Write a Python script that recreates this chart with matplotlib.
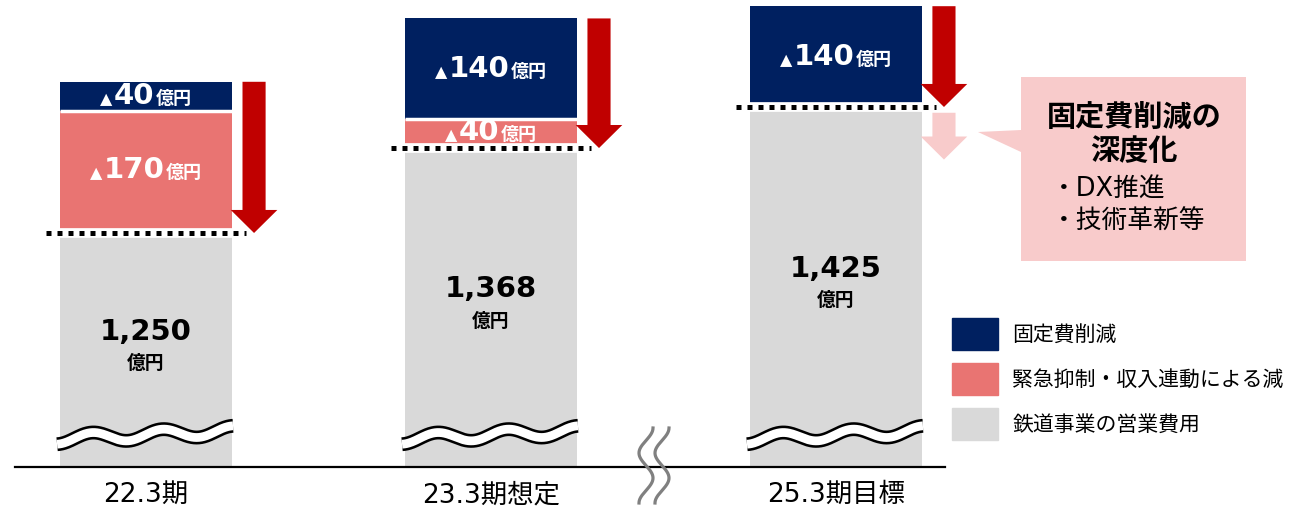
import numpy as np
import matplotlib.pyplot as plt
from matplotlib.patches import Patch, Polygon, FancyArrow
from matplotlib.lines import Line2D
from matplotlib.offsetbox import TextArea, HPacker, AnnotationBbox

plt.rcParams['font.family'] = ['DejaVu Sans', 'Noto Sans CJK JP']

# data (億円)
periods = ['22.3期', '23.3期想定', '25.3期目標']
base_cost = [1250, 1368, 1425]      # 鉄道事業の営業費用
emergency_cut = [170, 40, 0]        # 緊急抑制・収入連動による減
fixed_cut = [40, 140, 140]          # 固定費削減
legend_labels = ['固定費削減', '緊急抑制・収入連動による減', '鉄道事業の営業費用']
callout_title = ['固定費削減の', '深度化']
callout_items = ['・DX推進', '・技術革新等']

NAVY = '#002060'
PINK = '#E97472'
GRAY = '#D9D9D9'
RED = '#C00000'
LIGHT = '#F8CBCB'

W, H = 1301, 512


def fpx(x, y):
    # pixel position (from top-left) -> figure fraction
    return x / W, 1 - y / H


fig = plt.figure(figsize=(W / 100, H / 100), dpi=100)
ax = fig.add_axes([15 / W, 45 / H, 930 / W, 467 / H])
ax.set_xlim(-0.38, 2.316)
ax.set_ylim(925, 1573.6)   # broken axis: bars start below the visible range

x = np.arange(len(periods))
bw = 0.5
base = np.array(base_cost)
emer = np.array(emergency_cut)
fixed = np.array(fixed_cut)
top_emer = base + emer
total = top_emer + fixed

ax.bar(x, base, bw, color=GRAY, zorder=1)
ax.bar(x, emer, bw, bottom=base, color=PINK, zorder=1)
ax.bar(x, fixed, bw, bottom=top_emer, color=NAVY, zorder=1)

for i, xi in enumerate(x):
    # gap between pink and navy
    if emer[i] > 0:
        ax.plot([xi - bw / 2, xi + bw / 2], [top_emer[i]] * 2, color='white',
                lw=2.5, solid_capstyle='butt', zorder=2)
    # dotted line at the level of the operating cost
    ax.plot([xi - bw / 2, xi + bw / 2], [base[i]] * 2, color='white',
            lw=7, solid_capstyle='butt', zorder=2)
    ax.plot([xi - 0.29, xi + 0.29], [base[i]] * 2, color='black', lw=3.6,
            ls=(0, (1, 1.2)), zorder=3)
    # red reduction arrow
    ax.add_patch(FancyArrow(xi + 0.313, total[i], 0, -(total[i] - base[i]),
                            width=0.067, head_width=0.135, head_length=32,
                            length_includes_head=True, color=RED, lw=0,
                            zorder=3, clip_on=False))

# further reduction hint (light arrow) for the target year
ax.add_patch(FancyArrow(x[2] + 0.313, base[2] - 8, 0, -65, width=0.067,
                        head_width=0.135, head_length=32,
                        length_includes_head=True, color=LIGHT, lw=0,
                        zorder=3, clip_on=False))


def seg_label(xc, yc, val):
    parts = [
        TextArea('▲', textprops=dict(color='white', fontsize=11.5)),
        TextArea(str(val), textprops=dict(color='white', fontsize=21,
                                          fontweight='bold')),
        TextArea('億円', textprops=dict(color='white', fontsize=13,
                                       fontweight='bold')),
    ]
    box = HPacker(children=parts, align='baseline', pad=0, sep=1)
    ax.add_artist(AnnotationBbox(box, (xc, yc), frameon=False,
                                 box_alignment=(0.5, 0.5), pad=0, zorder=4))


for i, xi in enumerate(x):
    if emer[i] > 0:
        seg_label(xi, base[i] + emer[i] / 2 + 2, emer[i])
    seg_label(xi, top_emer[i] + fixed[i] / 2, fixed[i])
    mid = (ax.get_ylim()[0] + base[i]) / 2
    ax.annotate(f'{base[i]:,}', (xi, mid), xytext=(0, 13),
                textcoords='offset points', ha='center', va='center',
                fontsize=21, fontweight='bold', zorder=4)
    ax.annotate('億円', (xi, mid), xytext=(0, -10), textcoords='offset points',
                ha='center', va='center', fontsize=13.5, fontweight='bold',
                zorder=4)
    ax.text(xi, -28 / 467, periods[i], transform=ax.get_xaxis_transform(),
            ha='center', va='center', fontsize=19)

# wavy break marks on the bars
t = np.linspace(0, 1, 300)
for xi in x:
    xs = xi - 0.258 + 0.51 * t
    ys = 0.0685 - 0.0107 * np.cos(2 * np.pi * 2.5 * t) + 0.018 * (t - 0.5)
    ax.plot(xs, ys, transform=ax.get_xaxis_transform(), color='black',
            lw=10, solid_capstyle='butt', zorder=5)
    ax.plot(xs, ys, transform=ax.get_xaxis_transform(), color='white',
            lw=6.3, solid_capstyle='butt', zorder=6)

# axis break between 23.3 and 25.3
for xc in (646, 662):
    ys = 428 + 75 * t
    xs = xc + 7 * np.cos(3 * np.pi * t)
    fx, fy = fpx(xs, ys)
    fig.add_artist(Line2D(fx, fy, transform=fig.transFigure, color='#808080',
                          lw=2.3, zorder=10))

for s in ['left', 'top', 'right']:
    ax.spines[s].set_visible(False)
ax.spines['bottom'].set_linewidth(1.6)
ax.set_xticks([])
ax.set_yticks([])

# callout
callout = Polygon([fpx(1021, 77), fpx(1246, 77), fpx(1246, 261),
                   fpx(1021, 261), fpx(1021, 152), fpx(978, 132),
                   fpx(1021, 130)], closed=True, transform=fig.transFigure,
                  facecolor=LIGHT, edgecolor='none')
fig.add_artist(callout)
for line, yy in zip(callout_title, (118, 152)):
    fig.text(*fpx(1134, yy), line, ha='center', va='center', fontsize=21,
             fontweight='bold')
for line, yy in zip(callout_items, (190, 222)):
    fig.text(*fpx(1051, yy), line, ha='left', va='center', fontsize=18.5)

# legend
handles = [Patch(color=NAVY), Patch(color=PINK), Patch(color=GRAY)]
fig.legend(handles, legend_labels, loc='upper left',
           bbox_to_anchor=fpx(952, 318), frameon=False, fontsize=15,
           handleheight=1.98, handlelength=2.2, handletextpad=0.7,
           labelspacing=0.63, borderpad=0, borderaxespad=0)

fig.savefig('out.png', dpi=100)
